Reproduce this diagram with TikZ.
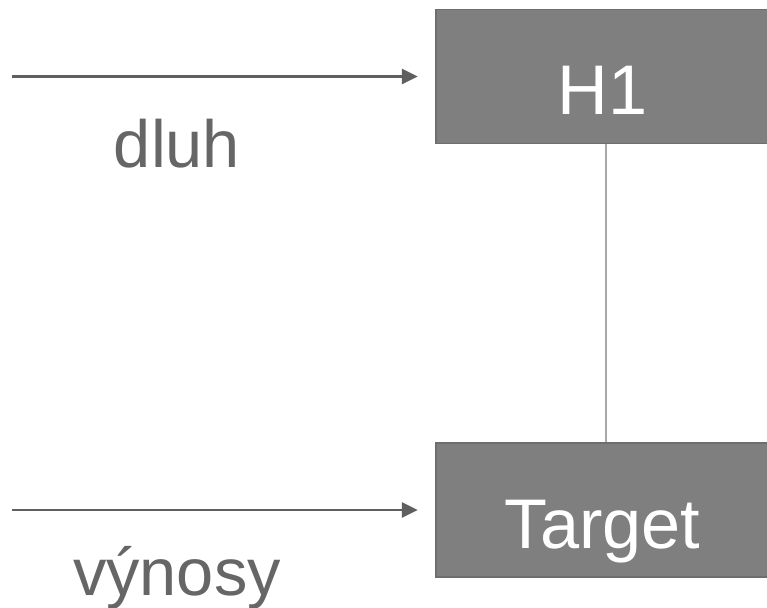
\documentclass[tikz,border=0pt]{standalone}
\usepackage{fontspec}
\setmainfont{Liberation Sans}
\usetikzlibrary{arrows.meta}
\definecolor{boxgrey}{RGB}{127,127,127}
\definecolor{edgegrey}{RGB}{110,110,110}
\definecolor{arrowgrey}{RGB}{95,95,95}
\definecolor{linkgrey}{RGB}{168,168,168}
\definecolor{labelgrey}{RGB}{102,102,102}

\begin{document}
\begin{tikzpicture}[x=0.02cm,y=-0.02cm,
  blok/.style={draw=edgegrey, line width=0.85pt, fill=boxgrey, text=white,
    minimum width=6.66cm, minimum height=2.69cm, inner sep=0pt,
    text height=1.54cm, text depth=0pt, font=\fontsize{40}{48}\selectfont},
  popis/.style={text=labelgrey, anchor=base, inner sep=0pt,
    font=\fontsize{38}{46}\selectfont},
  sipka/.style={arrowgrey, line width=1.5pt, -{Triangle[length=9pt,width=8.5pt]}}]
\useasboundingbox (0,0) rectangle (767,608);

\node[blok] (h1) at (602.5,76.5) {H1};
\node[blok] (target) at (602.5,510) {Target};

\draw [linkgrey, line width=1pt] ([xshift=2pt]h1.south) -- ([xshift=2pt]target.north);

\coordinate (in1) at (12,76.5);
\coordinate (in2) at (12,510);
\draw [sipka] (in1) -- ([xshift=-10pt]h1.west);
\draw [sipka] (in2) -- ([xshift=-10pt]target.west);

\node[popis] (dluh) at (177,167) {dluh};
\node[popis] (vynosy) at (177,595) {výnosy};

\end{tikzpicture}
\end{document}
